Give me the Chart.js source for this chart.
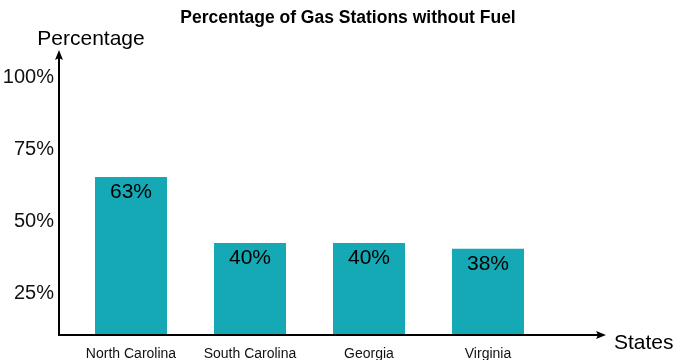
<!DOCTYPE html>
<html>
<head>
<meta charset="utf-8">
<script src="https://cdn.jsdelivr.net/npm/chart.js@4/dist/chart.umd.min.js"></script>
<style>
  html, body { margin: 0; padding: 0; background: #fff; }
  #wrap { width: 673px; height: 360px; }
</style>
</head>
<body>
<div id="wrap"><canvas id="gasChart" width="673" height="360"></canvas></div>
<script>
// данные с картинки
const states = ['North Carolina', 'South Carolina', 'Georgia', 'Virginia'];
const percentOut = [63, 40, 40, 38];
const yTicks = [25, 50, 75, 100];

const FONT = '"Liberation Sans", Arial, sans-serif';
const TEAL = 'rgb(20, 169, 181)';

function arrowHead(ctx, x, y, dir) {
    ctx.beginPath();
    if (dir === 'up') {
        ctx.moveTo(x, y);
        ctx.lineTo(x - 4, y + 10);
        ctx.lineTo(x, y + 8);
        ctx.lineTo(x + 4, y + 10);
    } else {
        ctx.moveTo(x, y);
        ctx.lineTo(x - 10, y - 4);
        ctx.lineTo(x - 8, y);
        ctx.lineTo(x - 10, y + 4);
    }
    ctx.closePath();
    ctx.fill();
}

// оси со стрелками, подписи осей и значений
const decorations = {
    id: 'decorations',
    afterDatasetsDraw(chart) {
        const ctx = chart.ctx;
        const area = chart.chartArea;
        const axisX = area.left - 12.5;
        ctx.save();
        ctx.strokeStyle = '#000';
        ctx.fillStyle = '#000';
        ctx.lineWidth = 2;
        ctx.beginPath();
        ctx.moveTo(axisX, area.bottom);
        ctx.lineTo(axisX, 56);
        ctx.moveTo(axisX - 1, area.bottom);
        ctx.lineTo(600, area.bottom);
        ctx.stroke();
        arrowHead(ctx, axisX, 50, 'up');
        arrowHead(ctx, 606, area.bottom, 'right');

        ctx.font = '21px ' + FONT;
        ctx.textBaseline = 'middle';
        ctx.textAlign = 'center';
        ctx.fillText('Percentage', 91, 39);
        ctx.textAlign = 'left';
        ctx.fillText('States', 614, 343);

        ctx.font = 'bold 17.5px ' + FONT;
        ctx.textAlign = 'center';
        ctx.fillText('Percentage of Gas Stations without Fuel', 348, 18);

        // подписи на столбцах
        ctx.font = '21px ' + FONT;
        chart.getDatasetMeta(0).data.forEach((bar, i) => {
            ctx.fillText(percentOut[i] + '%', bar.x, bar.y + 15);
        });
        ctx.restore();
    }
};

new Chart(document.getElementById('gasChart'), {
    type: 'bar',
    data: {
        labels: states,
        datasets: [{
            label: 'Percentage',
            data: percentOut,
            backgroundColor: TEAL,
            borderWidth: 0,
            barPercentage: 0.605,
            categoryPercentage: 1
        }]
    },
    options: {
        responsive: false,
        animation: false,
        layout: {
            padding: { left: 0, right: 125.5, top: 56.5, bottom: 0 }
        },
        plugins: {
            legend: { display: false },
            title: { display: false },
            tooltip: { enabled: false }
        },
        scales: {
            x: {
                grid: { display: false, drawTicks: false },
                border: { display: false },
                ticks: {
                    color: '#111',
                    font: { family: FONT, size: 14 },
                    padding: 11,
                    maxRotation: 0
                },
                afterFit: s => { s.height = 25; }
            },
            y: {
                min: 8,
                max: 105,
                grid: { display: false, drawTicks: false },
                border: { display: false },
                afterBuildTicks: s => { s.ticks = yTicks.map(v => ({ value: v })); },
                ticks: {
                    color: '#111',
                    font: { family: FONT, size: 20 },
                    padding: 17.5,
                    labelOffset: 7,
                    callback: v => v + '%'
                },
                afterFit: s => {
                    s.width = 71.5;
                    s.paddingTop = 0;
                    s.paddingBottom = 0;
                }
            }
        }
    },
    plugins: [decorations]
});
</script>
</body>
</html>
